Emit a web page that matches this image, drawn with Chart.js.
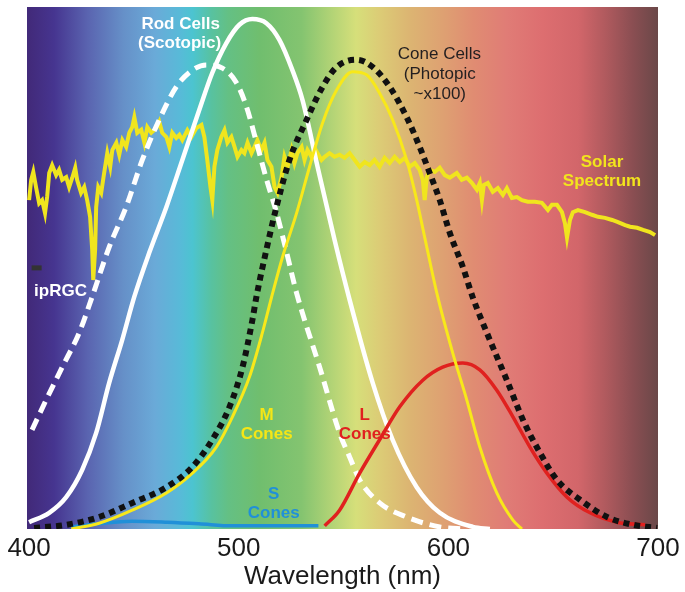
<!DOCTYPE html>
<html>
<head>
<meta charset="utf-8">
<script src="https://cdn.jsdelivr.net/npm/chart.js@4.4.1/dist/chart.umd.min.js"></script>
<style>
  html, body { margin: 0; padding: 0; background: #fff; }
  #wrap { width: 685px; height: 592px; }
</style>
</head>
<body>
<div id="wrap"><canvas id="spectrumChart"></canvas></div>
<script>
// x-axis ticks (nm)
const tickWl = [400, 500, 600, 700];

// Rod cells (scotopic)
const rodWl = [400, 409.6, 417.7, 425.3, 432, 438.2, 444.4, 450.2, 457.3, 465.5, 473.1, 481.2, 487.4, 494.1, 500.3, 506.5, 513.2, 519.4, 525.6, 530.4, 537.6, 545.7, 552.9, 563.9, 573.4, 584.9, 595.9, 611.7, 619.8];
const rodVal = [1.3, 3.1, 6.1, 11.3, 18.4, 28, 36.2, 44.5, 52.9, 61.7, 70.7, 80.3, 87.4, 93.1, 96.6, 97.7, 96.9, 93.7, 87.9, 82.2, 69.4, 55.4, 43.9, 28, 17.1, 8, 3.1, 0.4, 0];

// ipRGC (melanopsin), dashed
const ipWl = [401.4, 408.1, 415.8, 423.9, 430.1, 438.2, 446.3, 454, 462.1, 470.2, 477.9, 484.6, 492.2, 498.9, 503.7, 508.5, 513.3, 518.1, 522.9, 527.6, 538.6, 548.1, 552.9, 557.7, 567.2, 580.1, 595.9, 608.8];
const ipVal = [19, 24.7, 31, 37.6, 44.5, 54, 61.7, 70.7, 78.4, 84.7, 87.9, 88.9, 88.3, 85.5, 80.9, 74, 66.9, 60.5, 52.9, 45.2, 31, 18.4, 13.8, 9.4, 5, 2.3, 0.4, 0];

// Cone cells (photopic ~x100), dotted
const coneWl = [402.4, 417.7, 433.4, 449.2, 465.5, 477.9, 487.4, 495.6, 501.8, 506.5, 508.5, 513.2, 518, 524.2, 532.4, 540, 546.7, 556.2, 563.9, 572, 580.1, 586.3, 591.1, 595.9, 600.7, 606.9, 611.7, 619.8, 627.9, 635.6, 643.7, 651.8, 662.8, 675.7, 688.1, 699.6];
const coneVal = [0.2, 0.8, 2.3, 5, 8, 11.9, 17.1, 23.4, 31, 40, 44.6, 53.5, 61.7, 70.7, 78.4, 84.7, 88.5, 89.9, 88.5, 84.7, 78.9, 73.2, 68.2, 63, 56.7, 50.2, 44.3, 36.2, 28.5, 20.9, 14.6, 9.4, 5.6, 2.3, 0.8, 0.2];

// M cones
const mWl = [420.1, 433.4, 449.2, 465.5, 477.9, 489.3, 497, 505.1, 511.3, 515.6, 520.9, 527.6, 533.8, 540, 546.7, 554.3, 561, 567.2, 573.4, 580.1, 584.9, 589.7, 594.5, 602.1, 608.8, 615, 623.1, 630.8, 635.1];
const mVal = [0, 1.1, 3.6, 6.9, 10.7, 15.7, 21.5, 29.1, 37.6, 44.3, 52.1, 60.5, 69.4, 77.8, 84.1, 87.6, 87, 83.5, 78.4, 70.7, 63, 54, 45.2, 33.7, 24.7, 15.7, 6.9, 1.7, 0];

// L cones
const lWl = [541, 548.1, 557.7, 567.2, 576.8, 587.8, 597.3, 606.9, 615, 623.1, 630.8, 638.9, 647, 656.6, 667.6, 680.5, 693.9];
const lVal = [0.6, 3.6, 10.7, 17.1, 23.4, 28.5, 31, 31.8, 30.5, 26.6, 21.5, 15.7, 10.7, 6.1, 3.1, 1.3, 0.8];

// S cones
const sWl = [420, 433, 449, 466, 481, 497, 513, 538];
const sVal = [0.4, 1.0, 1.5, 1.3, 1.0, 0.6, 0.6, 0.6];

// Solar spectrum
const solarWl = [400, 401, 402, 403.3, 404.8, 406.2, 407.6, 408.6, 409.6, 411, 412.9, 414.3, 415.8, 417.7, 419.1, 420.6, 422, 422.9, 424.8, 426.3, 427.7, 429.1, 430.1, 430.6, 431.5, 432, 433, 434.4, 435.8, 437.3, 438.7, 439.7, 441.6, 443, 444.5, 446.3, 447.8, 449.2, 450.2, 451.6, 453.5, 455, 456.4, 458.3, 460.7, 462.1, 463.5, 465.5, 466.9, 468.3, 470.2, 471.7, 473.1, 475.5, 477.4, 479.8, 482.2, 483.6, 485, 486.5, 487.4, 488.4, 489.8, 491.7, 493.2, 494.6, 496.5, 498, 499.4, 501.3, 502.7, 504.2, 506.1, 507.5, 508.9, 510.8, 512.3, 513.7, 515.6, 517.1, 518.5, 520.4, 521.8, 523.3, 525.2, 526.6, 528, 530, 531.4, 532.8, 534.7, 536.2, 537.6, 539.5, 541, 543.3, 545.7, 548.1, 550.5, 552.9, 555.3, 557.7, 560.1, 562.5, 564.8, 567.2, 569.6, 572, 574.4, 576.8, 579.2, 581.6, 584, 586.3, 587.8, 588.7, 589.7, 591.1, 593.5, 595.9, 598.3, 600.7, 604, 606.4, 608.8, 611.2, 613.6, 615, 616, 616.9, 618.8, 621.2, 623.6, 626, 627.9, 630.3, 632.7, 635.1, 637.9, 641.3, 644.6, 647.5, 649.4, 651.8, 654.2, 655.6, 656.6, 658, 659.4, 661.8, 665.2, 668.5, 671.4, 674.7, 678.1, 680.9, 684.3, 686.7, 690, 692.9, 696.2, 698.6];
const solarVal = [63, 66.9, 68.4, 65.5, 62.4, 63, 60.5, 63.6, 68.2, 69.7, 67.8, 68.8, 66.9, 67.4, 65.5, 67.3, 69.2, 66.9, 64.4, 65.5, 63, 59.8, 53.5, 47.7, 53.5, 61.7, 65.5, 64.4, 68.2, 72, 69.4, 72.6, 74, 71.7, 74.5, 73.2, 75.9, 77, 78.9, 75.9, 76.5, 74, 77, 75.9, 76.8, 78, 75.9, 75.1, 73.2, 75.9, 74.9, 75.5, 74.5, 76.4, 75.1, 76.8, 77.4, 75.1, 70.7, 65.5, 63, 69.4, 72.6, 75.1, 76.4, 74, 75.1, 73.2, 71.3, 72.6, 72, 74, 72, 73.2, 74.5, 72.6, 74, 70.7, 69.4, 65.5, 64.4, 67.4, 71.3, 69.4, 72.6, 70.1, 72, 73.2, 70.7, 72.6, 71.3, 73, 72, 70.7, 71.3, 72, 71.3, 71.7, 71.1, 72, 70.7, 69.4, 70.3, 69.7, 70.7, 69.4, 71.1, 70.1, 71.3, 70.3, 71.1, 69.4, 70.1, 68.8, 66.9, 63, 67.4, 68.8, 68.4, 69.2, 67.8, 67.3, 68.2, 66.9, 67.3, 66.3, 65, 66.3, 63, 65.9, 66.3, 64.6, 65.3, 64, 65.3, 63.4, 63.6, 63, 62.7, 62.7, 62.5, 61.1, 62.1, 62.1, 60.7, 58.6, 55.8, 59.2, 60.7, 61.1, 60.7, 60.2, 59.8, 59.6, 59.2, 58.8, 58.2, 57.9, 57.7, 57.3, 56.9, 56.3];

const FONT = "'Liberation Sans', Arial, Helvetica, sans-serif";

function toPoints(wl, val) {
  return wl.map((w, i) => ({ x: w, y: val[i] }));
}

// background colour of the visible spectrum, stops by wavelength
const bgStops = [
  [400, '#422a7a'], [412, '#463590'], [428, '#5a64b0'], [445, '#6690c8'],
  [460, '#6aaad8'], [472, '#58bad8'], [478, '#4cc4d0'], [487, '#58c2a0'],
  [495, '#64c084'], [510, '#70be6e'], [530, '#84c470'], [545, '#b4d476'],
  [556, '#d6df7a'], [567, '#dccc76'], [582, '#dcb472'], [598, '#dea072'],
  [612, '#e08c72'], [628, '#e07c76'], [645, '#dd6e70'], [662, '#d2666a'],
  [675, '#b05a5e'], [688, '#8a4e52'], [700, '#6a4848']
];

const spectrumBg = {
  id: 'spectrumBg',
  beforeDatasetsDraw(chart) {
    const { ctx, chartArea: a, scales: { x } } = chart;
    const g = ctx.createLinearGradient(a.left, 0, a.right, 0);
    bgStops.forEach(([wl, c]) => {
      const f = (x.getPixelForValue(wl) - a.left) / (a.right - a.left);
      g.addColorStop(Math.min(1, Math.max(0, f)), c);
    });
    ctx.save();
    ctx.fillStyle = g;
    ctx.fillRect(a.left, a.top, a.width, a.height);
    ctx.restore();
  }
};

// text labels placed in data coordinates
const labels = [
  { t: 'Rod Cells', x: 472.3, y: 96.7, c: '#ffffff', bold: true },
  { t: '(Scotopic)', x: 471.8, y: 93.1, c: '#ffffff', bold: true },
  { t: 'Cone Cells', x: 595.7, y: 91.0, c: '#231f20', bold: false },
  { t: '(Photopic', x: 595.9, y: 87.2, c: '#231f20', bold: false },
  { t: '~x100)', x: 595.9, y: 83.3, c: '#231f20', bold: false },
  { t: 'Solar', x: 673.3, y: 70.3, c: '#f2e41c', bold: true },
  { t: 'Spectrum', x: 673.3, y: 66.7, c: '#f2e41c', bold: true },
  { t: 'ipRGC', x: 415, y: 45.6, c: '#ffffff', bold: true },
  { t: 'M', x: 513.3, y: 21.8, c: '#f5e616', bold: true },
  { t: 'Cones', x: 513.3, y: 18.2, c: '#f5e616', bold: true },
  { t: 'L', x: 560.1, y: 21.8, c: '#e0211f', bold: true },
  { t: 'Cones', x: 560.1, y: 18.2, c: '#e0211f', bold: true },
  { t: 'S', x: 516.7, y: 6.7, c: '#2090d8', bold: true },
  { t: 'Cones', x: 516.7, y: 3.1, c: '#2090d8', bold: true }
];

const textLabels = {
  id: 'textLabels',
  afterDatasetsDraw(chart) {
    const { ctx, scales: { x, y } } = chart;
    ctx.save();
    // small dark marker next to ipRGC
    ctx.fillStyle = '#333';
    ctx.fillRect(x.getPixelForValue(401.2), y.getPixelForValue(50.5), 10, 5);
    ctx.textAlign = 'center';
    ctx.textBaseline = 'middle';
    labels.forEach(l => {
      ctx.font = (l.bold ? 'bold ' : '') + '17px ' + FONT;
      ctx.fillStyle = l.c;
      ctx.fillText(l.t, x.getPixelForValue(l.x), y.getPixelForValue(l.y));
    });
    ctx.restore();
  }
};

const ctx = document.getElementById('spectrumChart').getContext('2d');
const chart = new Chart(ctx, {
  type: 'line',
  data: {
    datasets: [
      {
        label: 'Cone Cells (Photopic ~x100)',
        data: toPoints(coneWl, coneVal),
        borderColor: '#111111',
        borderWidth: 6,
        borderDash: [6, 5],
        order: 1
      },
      {
        label: 'M Cones',
        data: toPoints(mWl, mVal),
        borderColor: '#f8e81a',
        borderWidth: 3,
        order: 2
      },
      {
        label: 'L Cones',
        data: toPoints(lWl, lVal),
        borderColor: '#e0211f',
        borderWidth: 3.5,
        order: 3
      },
      {
        label: 'Rod Cells (Scotopic)',
        data: toPoints(rodWl, rodVal),
        borderColor: '#ffffff',
        borderWidth: 4.5,
        order: 4
      },
      {
        label: 'ipRGC',
        data: toPoints(ipWl, ipVal),
        borderColor: '#ffffff',
        borderWidth: 5,
        borderDash: [12, 7],
        order: 5
      },
      {
        label: 'S Cones',
        data: toPoints(sWl, sVal),
        borderColor: '#2090d8',
        borderWidth: 3.5,
        order: 6
      },
      {
        label: 'Solar Spectrum',
        data: toPoints(solarWl, solarVal),
        borderColor: '#f0e51e',
        borderWidth: 4,
        tension: 0,
        cubicInterpolationMode: 'default',
        order: 7
      }
    ]
  },
  options: {
    responsive: true,
    maintainAspectRatio: false,
    animation: false,
    layout: { padding: { left: 27, right: 27, top: 7, bottom: 0 } },
    elements: {
      point: { radius: 0 },
      line: { cubicInterpolationMode: 'monotone', fill: false, borderCapStyle: 'butt' }
    },
    plugins: {
      legend: { display: false },
      tooltip: { enabled: false }
    },
    scales: {
      x: {
        type: 'linear',
        min: 399,
        max: 700,
        grid: { display: false, drawTicks: false },
        border: { display: false },
        afterBuildTicks: axis => { axis.ticks = tickWl.map(v => ({ value: v })); },
        afterFit: axis => { axis.height = 63; },
        ticks: {
          padding: 4,
          color: '#1a1a1a',
          font: { family: FONT, size: 26 },
          maxRotation: 0,
          autoSkip: false
        },
        title: {
          display: true,
          text: 'Wavelength (nm)',
          color: '#1a1a1a',
          font: { family: FONT, size: 26 },
          padding: { top: 0, bottom: 0 }
        }
      },
      y: {
        display: false,
        min: 0,
        max: 100
      }
    }
  },
  plugins: [spectrumBg, textLabels]
});
</script>
</body>
</html>
